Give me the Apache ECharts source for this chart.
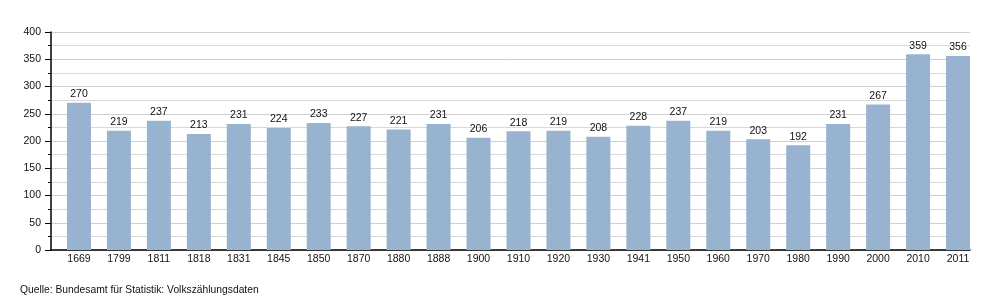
<!DOCTYPE html>
<html><head><meta charset="utf-8">
<script src="https://cdn.jsdelivr.net/npm/echarts@6/dist/echarts.min.js"></script>
<style>html,body{margin:0;padding:0;background:#fff}#c{width:1000px;height:300px}</style>
</head><body><div id="c"></div>
<script>
const years = ["1669","1799","1811","1818","1831","1845","1850","1870","1880","1888","1900","1910","1920","1930","1941","1950","1960","1970","1980","1990","2000","2010","2011"];
const population = [270,219,237,213,231,224,233,227,221,231,206,218,219,208,228,237,219,203,192,231,267,359,356];
const sourceText = "Quelle: Bundesamt für Statistik: Volkszählungsdaten";
const font = "'Liberation Sans', Arial, sans-serif";
const idx = years.map((_, i) => i);
const chart = echarts.init(document.getElementById('c'), null, {renderer:'canvas'});
chart.setOption({
  animation:false,
  backgroundColor:'#fff',
  grid:{left:51,right:30,top:32,bottom:50},
  xAxis:{type:'value',min:-0.7,max:22.3,
    splitLine:{show:false},
    axisLine:{show:true,onZero:false,lineStyle:{color:'#000',width:1.5}},
    axisTick:{show:false},
    axisLabel:{customValues:idx,formatter:v=>years[Math.round(v)],color:'#111',fontFamily:font,fontSize:10.5,margin:4}},
  yAxis:{type:'value',min:0,max:400,interval:50,
    axisLine:{show:true,onZero:false,lineStyle:{color:'#000',width:1.5}},
    axisTick:{show:true,length:6,lineStyle:{color:'#000'}},
    minorTick:{show:true,splitNumber:2,length:3,lineStyle:{color:'#000'}},
    splitLine:{lineStyle:{color:'#d0d0d0'}},
    minorSplitLine:{show:true,lineStyle:{color:'#d8d8d8'}},
    axisLabel:{color:'#111',fontFamily:font,fontSize:10.5,margin:10}},
  series:[{type:'bar',data:population.map((v,i)=>[i,v]),barWidth:24,
    itemStyle:{color:'#98b3cf'},
    label:{show:true,position:'top',color:'#111',fontFamily:font,fontSize:10.5,distance:3,formatter:p=>p.value[1]}}],
  graphic:[{type:'text',left:20,top:285,style:{text:sourceText,fontFamily:font,fontSize:10.3,fill:'#111'}}]
});
</script></body></html>
